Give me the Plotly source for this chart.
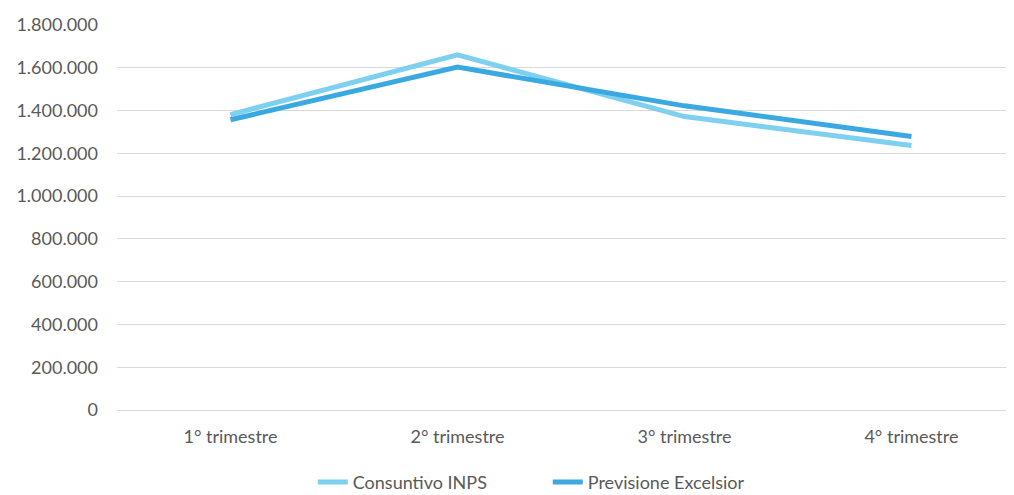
import plotly.graph_objects as go

trimestri = ["1° trimestre", "2° trimestre", "3° trimestre", "4° trimestre"]
consuntivo_inps = [1381000, 1660000, 1372000, 1237000]
previsione_excelsior = [1357000, 1603000, 1422000, 1279000]

y_ticks = [0, 200000, 400000, 600000, 800000, 1000000, 1200000, 1400000, 1600000, 1800000]
y_labels = ["0", "200.000", "400.000", "600.000", "800.000", "1.000.000",
            "1.200.000", "1.400.000", "1.600.000", "1.800.000"]

fig = go.Figure()
fig.add_trace(go.Scatter(x=trimestri, y=consuntivo_inps, mode="lines",
                         name="Consuntivo INPS",
                         line=dict(color="#7DD0EF", width=5)))
fig.add_trace(go.Scatter(x=trimestri, y=previsione_excelsior, mode="lines",
                         name="Previsione Excelsior",
                         line=dict(color="#3AA9E1", width=5)))

# the page body adds an 8px offset, so margins are shifted to compensate
fig.update_layout(
    width=1014, height=495,
    margin=dict(l=109, r=0, t=17, b=93, autoexpand=False),
    plot_bgcolor="white", paper_bgcolor="white",
    font=dict(family="Lato, Open Sans, sans-serif", size=18, color="#595959"),
    legend=dict(orientation="h", x=0.476, xanchor="center",
                yref="container", y=0.042, yanchor="middle",
                entrywidth=190, font=dict(size=18),
                bgcolor="rgba(0,0,0,0)", tracegroupgap=0),
    xaxis=dict(range=[-0.5, 3.487], showgrid=False, showline=True, linecolor="#d9d9d9",
               linewidth=1, ticks="", ticklabelstandoff=10, automargin=False),
    yaxis=dict(range=[0, 1800000], tickvals=y_ticks, ticktext=y_labels,
               showgrid=True, gridcolor="#d9d9d9", gridwidth=1,
               zeroline=False, ticks="", ticklabelstandoff=18, automargin=False),
)

fig.write_html("out.html")
